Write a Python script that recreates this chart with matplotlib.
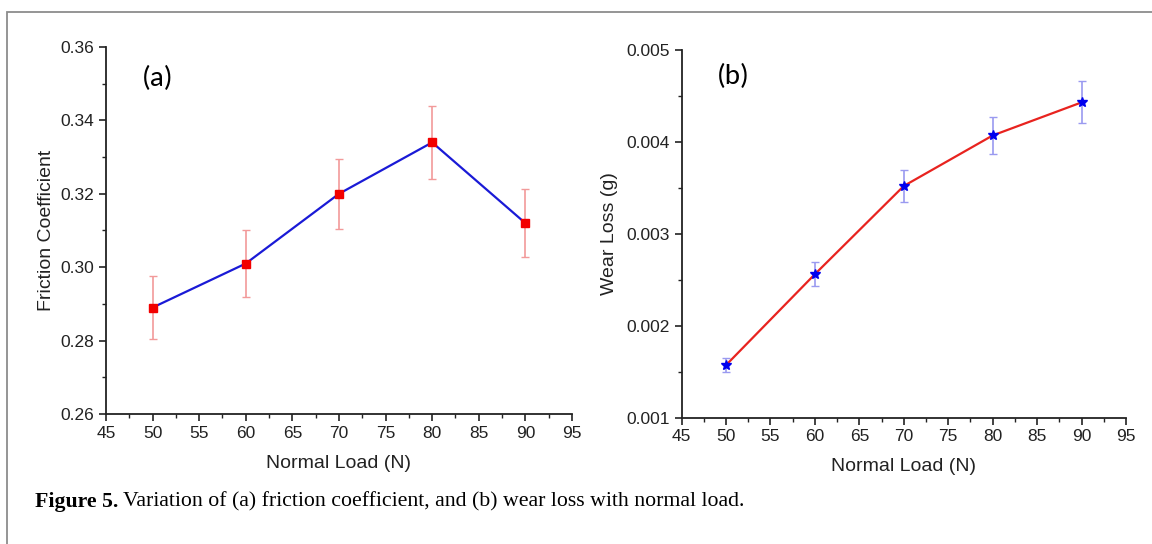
import matplotlib

matplotlib.use("Agg")
import matplotlib.pyplot as plt
from matplotlib.patches import Rectangle
from matplotlib.ticker import MultipleLocator, FormatStrFormatter

# normal load (N)
load = [50, 60, 70, 80, 90]

# (a) friction coefficient with error bars
friction = [0.289, 0.301, 0.320, 0.334, 0.312]
friction_err = [0.0087, 0.0091, 0.0096, 0.0100, 0.0093]

# (b) wear loss (g) with error bars
wear = [0.00157, 0.00256, 0.00352, 0.00407, 0.00443]
wear_err = [0.00008, 0.00013, 0.00017, 0.00020, 0.00023]

xticks = [45, 50, 55, 60, 65, 70, 75, 80, 85, 90, 95]

plt.rcParams["font.family"] = ["Liberation Sans", "DejaVu Sans"]

fig = plt.figure(figsize=(11.52, 5.44), dpi=100)
ax_a = fig.add_axes([0.092, 0.239, 0.4045, 0.6746])
ax_b = fig.add_axes([0.5916, 0.2325, 0.3859, 0.6756])

# outer frame of the figure
fig.patches.append(Rectangle((7 / 1152, -0.05), 1.1, 1 - 12 / 544 + 0.05,
                             transform=fig.transFigure, fill=False,
                             edgecolor="#8c8c8c", linewidth=1.3))

ax_a.plot(load, friction, color="#1a1ad6", lw=1.6, zorder=2)
ax_a.errorbar(load, friction, yerr=friction_err, fmt="none", ecolor="#f29a9a",
              elinewidth=1.2, capsize=3, capthick=1.0, zorder=1)
ax_a.plot(load, friction, ls="none", marker="s", ms=6.3, color="#f20000", zorder=3)

ax_b.plot(load, wear, color="#e8231f", lw=1.6, zorder=2)
ax_b.errorbar(load, wear, yerr=wear_err, fmt="none", ecolor="#9a9af0",
              elinewidth=1.2, capsize=3, capthick=1.0, zorder=1)
ax_b.plot(load, wear, ls="none", marker="*", ms=7.5, color="#0000ee", zorder=3)

for ax in (ax_a, ax_b):
    ax.set_xlim(45, 95)
    ax.set_xticks(xticks)
    ax.xaxis.set_minor_locator(MultipleLocator(2.5))
    for s in ("top", "right"):
        ax.spines[s].set_visible(False)
    for s in ("left", "bottom"):
        ax.spines[s].set_linewidth(1.3)
        ax.spines[s].set_color("#222222")
    ax.tick_params(which="major", direction="out", length=5, width=1.2,
                   labelsize=12.5, colors="#222222")
    ax.tick_params(which="minor", direction="out", length=3, width=1.0,
                   colors="#222222")
    ax.set_xlabel("Normal Load (N)", fontsize=14, color="#222222", labelpad=10)

ax_a.set_ylim(0.26, 0.36)
ax_a.yaxis.set_major_locator(MultipleLocator(0.02))
ax_a.yaxis.set_minor_locator(MultipleLocator(0.01))
ax_a.yaxis.set_major_formatter(FormatStrFormatter("%.2f"))
ax_a.set_ylabel("Friction Coefficient", fontsize=14, color="#222222", labelpad=4)
ax_a.text(48.9, 0.3515, "(a)", fontsize=21, va="center", ha="left",
          family=["Carlito", "Lato", "DejaVu Sans"])

ax_b.set_ylim(0.001, 0.005)
ax_b.yaxis.set_major_locator(MultipleLocator(0.001))
ax_b.yaxis.set_minor_locator(MultipleLocator(0.0005))
ax_b.yaxis.set_major_formatter(FormatStrFormatter("%.3f"))
ax_b.set_ylabel("Wear Loss (g)", fontsize=14, color="#222222", labelpad=6)
ax_b.text(49.0, 0.00471, "(b)", fontsize=21, va="center", ha="left",
          family=["Carlito", "Lato", "DejaVu Sans"])

# caption: bold figure number followed by the plain text
cap = fig.text(35 / 1152, 1 - 502 / 544, "Figure 5.", fontsize=15.7, fontweight="bold",
               family="Liberation Serif", va="center", ha="left")
ax_a.annotate("Variation of (a) friction coefficient, and (b) wear loss with normal load.",
              xy=(1, 0.5), xycoords=cap, xytext=(3, 0), textcoords="offset points",
              fontsize=15.7, family="Liberation Serif", va="center", ha="left",
              annotation_clip=False)

fig.savefig("out.png", dpi=100)
